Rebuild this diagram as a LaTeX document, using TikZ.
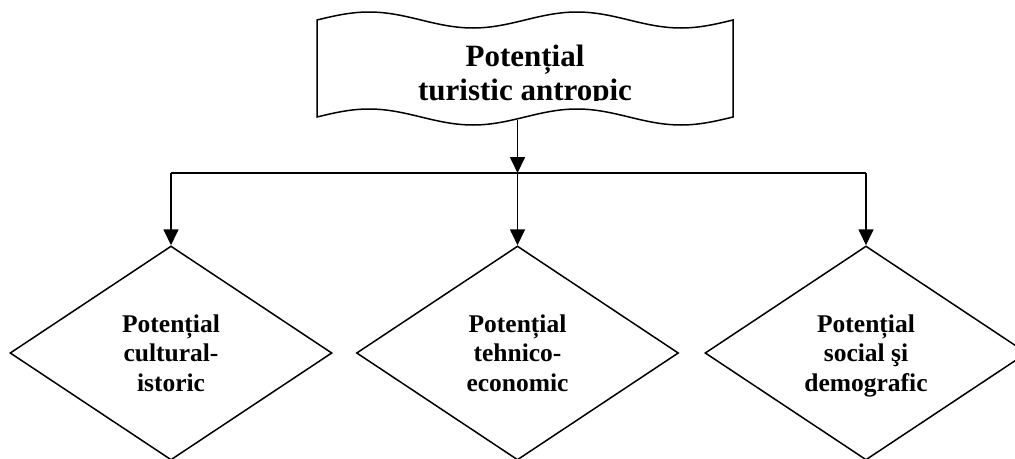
\documentclass[tikz,border=0pt]{standalone}
\usepackage{fontspec}
\setmainfont{Liberation Serif}
\usetikzlibrary{shapes.geometric,arrows.meta}
\begin{document}
\begin{tikzpicture}[x=1pt,y=-1pt,line width=1.5pt,
  dia/.style={diamond,draw,minimum width=322pt,minimum height=214pt,inner sep=0pt,
    align=center,text depth=0pt,font=\fontsize{25.5}{29.5}\selectfont\bfseries},
  toptext/.style={align=center,text depth=0pt,inner sep=0pt,
    font=\fontsize{31}{34}\selectfont\bfseries},
  conn/.style={line width=1.7pt},
  arr/.style={conn,-{Triangle[width=15pt,length=16pt]}}]
\useasboundingbox (0,0) rectangle (1015,458);
\clip (0,0) rectangle (1015,458);
% punched tape shape
\draw (317,20) sin (369,12) cos (421,20) sin (473,28) cos (525,20)
      sin (577,12) cos (629,20) sin (681,28) cos (733,20)
      -- (733,117)
      sin (681,125) cos (629,117) sin (577,109) cos (525,117)
      sin (473,125) cos (421,117) sin (369,109) cos (317,117) -- cycle;
\begin{scope}
  \clip (317,0) rectangle (733,100);
  \node[toptext] (top) at (525,73) {Potențial\\turistic antropic};
\end{scope}
\coordinate (tb) at (517.5,120);
% diamonds
\node[dia] (d1) at (171,353) {Potențial\\cultural-\\istoric};
\node[dia] (d2) at (517.5,353) {Potențial\\tehnico-\\economic};
\node[dia] (d3) at (866,353) {Potențial\\social şi\\demografic};
% connectors
\coordinate (j) at (517.5,173);
\draw[arr] (tb) -- (j);
\draw[conn] (d1.north |- j) -- (d3.north |- j);
\draw[arr] (d1.north |- j) -- (d1.north);
\draw[arr] (j) -- (d2.north);
\draw[arr] (d3.north |- j) -- (d3.north);
\end{tikzpicture}
\end{document}
